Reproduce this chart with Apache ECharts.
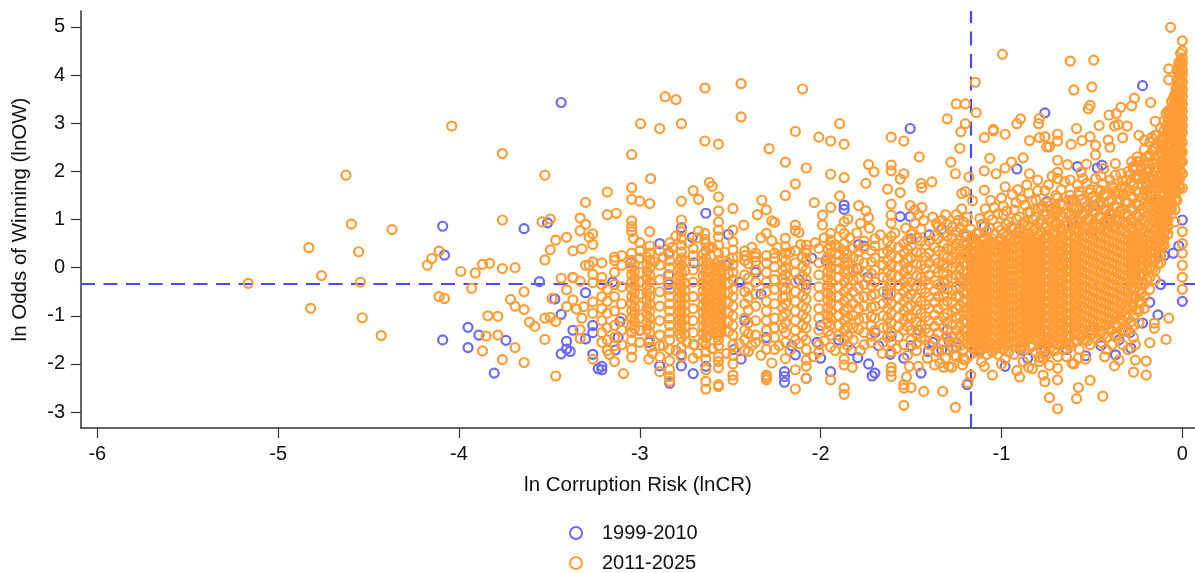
<!DOCTYPE html>
<html><head><meta charset="utf-8">
<style>html,body{margin:0;padding:0;background:#fff}#c{width:1195px;height:573px}</style>
<script src="https://cdn.jsdelivr.net/npm/echarts@6/dist/echarts.min.js"></script>
</head><body><div id="c"></div>
<script>
const xTicks=[-6,-5,-4,-3,-2,-1,0];
const yTicks=[-3,-2,-1,0,1,2,3,4,5];
const refX=-1.17, refY=-0.33;
const blueSparse=[[-4.09,.86],[-4.08,.26],[-3.64,.81],[-3.51,.93],[-3.435,3.43],[-3.555,-.29],[-3.3,-.52],[-3.47,-.65],[-4.09,-1.5],[-3.95,-1.24],[-3.89,-1.4],[-3.95,-1.66],[-3.805,-2.19],[-3.74,-1.51],[-3.435,-.97],[-3.37,-1.3],[-3.405,-1.53],[-3.405,-1.69],[-3.385,-1.74],[-3.435,-1.79],[-3.3,-1.48],[-3.26,-1.2],[-3.26,-1.35],[-3.26,-1.8],[-3.23,-2.1],
[-1.505,2.89],[-.76,3.215],[-.22,3.78],[-.47,2.07],[-.445,2.13],[-.58,2.1],[-.915,2.05],[-.155,2],[-.145,1.76],[-.115,2.54],[-.605,1.4],[-.49,1.29],[-.75,1.37],[-.17,1.49],[-1.56,1.06],[-1.505,1.06],[-1.095,.85],[0,.99],[-1.87,1.3],[-1.87,1.21],[-2.71,.63],[-2.77,.83],[-2.89,.5],[-2.51,.69],[-1.79,.48],[-.61,.93],[-2.635,1.13],
[-1.19,-2.43],[-1.445,-2.19],[-1.715,-2.25],[-1.7,-2.19],[-1.735,-2],[-1.795,-1.87],[-1.945,-2.16],[-2.08,-2.3],[-2.14,-1.81],[-2.2,-2.16],[-2.2,-2.26],[-2.2,-2.38],[-2.44,-1.9],[-2.635,-2.05],[-2.635,-1.45],[-2.705,-2.2],[-2.77,-1.81],[-2.77,-2.04],[-2.89,-2.04],[-2.835,-2.4],[-3.21,-2.05],[-3.21,-2.12],[-3.11,-1.12],[-3.135,-1.71],[0,-.7],[-.135,-.98],[-.98,-2.05],[-.855,-1.88],[-.76,-1.74],[-.285,-1.67],[-.37,-1.81],[-.535,-1.83],[-.895,-1.71],[-1.61,-1.42],[-1.54,-1.88],[-1.615,-1.8],[-2,-1.88],[-1.03,-1.67],[-1.33,-1.71],[-1.29,-1.53],[-1.405,-1.74],[-1.46,-1.3],
[-3.15,-.3],[-3.05,.1],[-2.84,.3],[-2.84,-.35],[-2.84,-.15],[-2.7,.1],[-2.52,.05],[-2.45,-.3],[-2.36,-.1],[-2.33,-.55],[-2.12,-.25],[-2.05,.2],[-2.08,-.35],[-1.97,.15],[-1.8,-.02],[-1.76,.45],[-1.74,-.2],[-1.63,-.55],[-1.5,.6],[-1.4,.68],[-1.33,.8],[-1.2,.65],[-1.18,.2],[-1.1,.6],[-1,.45],[-.9,.8],[-.84,.55],[-.7,.2],[-.5,.75],[-.4,1],[-.25,.55],[-.1,.25],[-.12,-.35],[-.02,.45],[-.05,.3],[-1.16,-.6],[-1.22,-.3],[-1.33,-.4],[-1.09,-1.2],[-.86,-.4],[-.5,-1.3],[-.35,-1.5],[-2,-1.2],[-1.9,-1.5],[-1.7,-1.35],[-1.3,-1.3],[-2.42,-1.1],[-2.3,-1.45],[-3,-1.3],[-2.95,-1.55],[-3.12,-1.45],[-2.7,-1.6],[-2.48,-1.7],
[-1.25,-1.65],[-1.12,-1.72],[-.93,-1.55],[-.64,-1.7],[-.45,-1.62],[-.29,-1.35],[-.22,-1.15],[-.18,-.72],[-2.16,-1.62],[-2.02,-1.55],[-1.83,-1.72],[-1.68,-1.62],[-1.5,-1.62],[-1.38,-1.55]];
const orangeSparse=[[-5.165,-.325],[-4.83,.415],[-4.76,-.165],[-4.625,1.92],[-4.595,.905],[-4.555,.33],[-4.545,-.3],[-4.37,.79],[-4.175,.05],[-4.15,.19],[-4.11,.345],[-3.99,-.08],[-3.91,-.11],[-3.87,.07],[-3.83,.09],[-3.76,-.02],[-3.69,0],[-4.04,2.94],[-3.76,2.37],[-3.525,1.92],[-3.76,.99],[-3.54,.95],[-3.495,1.01],[-3.93,-.43],[-4.11,-.6],[-4.08,-.64],[-4.82,-.845],[-4.535,-1.04],[-4.43,-1.41],[-3.64,-.5],[-3.715,-.66],[-3.69,-.8],[-3.64,-.87],[-3.84,-1],[-3.785,-1.01],[-3.61,-1.13],[-3.58,-1.22],[-3.525,-1.05],[-3.495,-1.03],[-3.465,-1.12],[-3.85,-1.42],[-3.785,-1.4],[-3.69,-1.66],[-3.87,-1.73],[-3.76,-1.91],[-3.64,-1.97],[-3.525,-1.49],[-3.465,-2.25],[-3.435,-.22],[-3.37,-.2],[-3.33,-.28],[-3.26,-.31],[-3.405,-.46],[-3.485,-.64],[-3.37,-.67],[-3.405,-.81],[-3.35,-.86],[-3.31,-.81],[-3.26,-.71],[-3.32,-1.05],[-3.26,-.95],[-3.33,-1.29],[-3.33,-1.47],[-3.26,-1.9],[-3.3,1.355],[-3.33,1.03],[-3.3,.9],[-3.33,.77],[-3.26,.7],[-3.28,.63],[-3.405,.63],[-3.465,.57],[-3.495,.37],[-3.525,.16],[-3.37,.35],[-3.32,.39],[-3.26,.48],[-3.3,.05],[-3.28,.05],[-3.26,.12],[-3.26,-.14],[-3.37,-.21],
[-2.86,3.55],[-2.8,3.49],[-2.64,3.73],[-2.44,3.82],[-2.1,3.71],[-2.996,2.99],[-2.89,2.89],[-2.77,2.99],[-2.44,3.13],[-2.64,2.63],[-2.565,2.565],[-3.045,2.35],[-2.94,1.85],[-3.045,1.66],[-3.045,1.42],[-3,1.38],[-2.945,1.33],[-3.18,1.57],[-3.18,1.1],[-3.13,1.13],[-2.615,1.77],[-2.6,1.69],[-2.705,1.6],[-2.675,1.42],[-2.565,1.47],[-2.77,1.38],[-2.565,1.18],[-2.485,1.23],[-2.565,.95],[-2.565,.78],[-2.77,.99],[-3.045,.97],[-3.045,.85],[-3.045,.75],[-3.035,.61],[-3,.52],[-2.945,.75],[-2.425,.885],[-2.485,.78],[-2.675,.76],[-2.64,.71],[-2.64,.59],[-2.77,.75],[-2.77,.61],[-2.77,.47],[-2.77,.33],[-2.8,.66],[-2.835,.52],[-2.705,.4],[-2.565,.64],[-2.565,.47],[-2.565,.3],[-2.485,.54],[-2.485,.37],
[-2.285,2.47],[-2.14,2.83],[-2.01,2.71],[-1.945,2.63],[-1.87,2.565],[-1.895,2.99],[-2.195,2.19],[-2.08,2.07],[-1.945,1.94],[-1.87,1.87],[-2.14,1.74],[-2.195,1.5],[-1.895,1.49],[-2.035,1.35],[-2.325,1.4],[-2.3,1.2],[-2.35,1.1],[-2.27,.97],[-2.255,.94],[-2.14,.885],[-2.14,.77],[-2.12,.73],[-2.3,.71],[-2.27,.56],[-2.195,.61],[-2.195,.435],[-2.08,.47],[-2.08,.37],[-1.99,1.09],[-1.99,.885],[-1.945,1.25],[-1.87,.95],[-1.85,1.01],[-1.79,1.29],[-1.75,1.18],[-1.735,1.04],[-1.78,.92],[-1.89,.8],[-1.945,.71],[-1.945,.57],[-1.87,.71],
[-1.61,2.71],[-1.54,2.63],[-1.455,2.3],[-1.735,2.14],[-1.705,1.99],[-1.61,2.13],[-1.61,2.01],[-1.54,1.95],[-1.56,1.84],[-1.75,1.75],[-1.63,1.63],[-1.56,1.56],[-1.61,1.32],[-1.61,1.09],[-1.61,.92],[-1.505,1.29],[-1.445,1.75],[-1.44,1.66],[-1.385,1.78],[-1.3,3.09],[-1.25,3.4],[-1.2,3.4],[-1.145,3.85],[-1.14,3.22],[-1.2,2.99],[-1.225,2.82],[-1.23,2.48],[-1.28,2.19],[-1.255,1.95],[-1.18,1.88],[-1.2,1.58],[-1.22,1.54],[-1.16,1.39],[-1.48,1.2],[-1.46,1.1],[-1.44,1.25],[-1.38,1.05],[-1.31,1.1],[-1.25,1.1],[-1.22,1.22],[-1.19,1.05],
[-.995,4.43],[-.62,4.29],[-.49,4.31],[-.6,3.69],[-.5,3.755],[-1.095,2.7],[-1.045,2.84],[-1.045,2.87],[-.98,2.77],[-.915,2.99],[-.895,3.09],[-.795,2.99],[-.79,3.1],[-.845,2.64],[-.79,2.7],[-.76,2.72],[-.735,2.51],[-.75,2.51],[-.69,2.77],[-.69,2.63],[-.615,2.56],[-.585,2.89],[-.555,2.64],[-.52,3.3],[-.51,3.37],[-.51,2.72],[-.46,2.95],[-.405,3.17],[-.365,3.2],[-.34,3.33],[-.28,3.36],[-.265,3.52],[-.175,3.43],[-.375,2.94],[-.355,2.97],[-.305,2.94],[-.15,3.04],[-.09,3.2],[-.075,4.13],[-.075,3.9],[-.065,4.99],[0,4.71],
[-1.065,2.27],[-1.095,2.01],[-1.03,1.95],[-.98,2.07],[-.945,2.19],[-.88,2.28],[-.845,1.95],[-.98,1.68],[-1.095,1.61],[-.69,2.23],[-.635,2.14],[-.53,2.15],[-.48,2.34],[-.48,2.54],[-.435,2.06],[-.37,2.16],[-.34,1.95],[-.28,2.2],[-.25,2.3],[-.25,2.2],[-.25,1.89],[-.2,1.75],[-.41,2.65],[-.33,2.7],[-.24,2.75],[-.21,2.65],[-.17,2.7],[-.14,2.75],[-.18,2.35],[-.15,2.25],[-.4,2.5],[-.56,1.98],[-.55,1.85],[-.53,1.75],[-.48,1.85],[-.44,1.75],[-.38,1.65],[-.33,1.7],[-.69,1.85],[-.69,1.98],[-.76,1.6],[-.8,1.6],[-.85,1.55],[-.92,1.35],[-1,1.45],[-1.06,1.4],[-.7,1.5],[-.62,1.5],[-.2,2.05],[-.22,1.95],[-.13,1.9],[-.1,2.1],[-.12,1.55],
[-1.54,-2.86],[-1.255,-2.9],[-.69,-2.93],[-.735,-2.7],[-.585,-2.72],[-.44,-2.67],[-.575,-2.49],[-.51,-2.34],[-1.43,-2.57],[-1.325,-2.57],[-1.5,-2.49],[-1.54,-2.43],[-1.54,-2.5],[-1.525,-2.27],[-1.87,-2.5],[-1.87,-2.63],[-2.14,-2.52],[-2.08,-2.3],[-1.945,-2.33],[-2.635,-2.36],[-2.635,-2.52],[-2.565,-2.43],[-2.565,-2.47],[-2.835,-2.26],[-2.835,-2.36],[-3.09,-2.2],[-2.89,-2.16],[-2.485,-2.23],[-2.485,-2.33],[-2.3,-2.23],[-2.3,-2.33],[-2.3,-2.28],
[-.2,-2.23],[-.2,-1.94],[-.27,-2.17],[-.26,-1.92],[-.375,-2.04],[-.35,-1.92],[-.09,-1.49],[-.18,-1.56],[-.075,-1.05],[-.155,-1.26],[-.155,-1.15],[-.26,-1.6],[-.9,-2.27],[-.85,-2.07],[-.915,-2.14],[-1.05,-2.23],[-1.095,-2.05],[-.77,-2.23],[-.76,-2.37],[-.69,-2.33],[-.69,-2.09],[-.735,-2.03],[-.535,-1.9],[-.61,-1.98],[-.575,-1.88],[-.79,-1.86],[-1.17,-2.23],[-1.185,-2.39],[-1.275,-2.07],[-1.34,-1.98],[-1.215,-2.02],[-1.46,-2.05],[-1.51,-2.05],[-1.61,-2.07],[-1.61,-2.26],[-1.61,-2.15],[-1.825,-2.07],[-1.87,-2.02],[-2.08,-1.92],[-2.08,-2.05],[-2.14,-2.12],[-2.27,-1.98],[-2.4,-1.74],[-2.195,-1.89],[-2.565,-1.85],[-2.565,-1.95],[-2.565,-2.08],[-2.705,-1.88],[-2.635,-2.12],[-2.835,-1.93],[-2.835,-2.12],[-2.95,-1.9],[-3.045,-1.86],[-3.14,-1.95],[-3.17,-1.8],[-1.37,-2.02],[-1.32,-2.07],[-1.29,-2.05],[-.64,-1.85],[-.6,-2],[-.79,-1.95],[-.77,-1.88],[-.98,-1.9],[-1,-2],[-.88,-1.95],[-.83,-2.1],[-.43,-1.85],[-.42,-1.7],[-.3,-1.7]];
const orangeColumnX=[-3.21,-3.18,-3.14,-3.1,-3.045,-3.0,-2.945,-2.89,-2.835,-2.77,-2.705,-2.635,-2.565,-2.485,-2.42,-2.36,-2.3,-2.255,-2.195,-2.14,-2.08,-2.01,-1.945,-1.87,-1.82,-1.76,-1.7,-1.655,-1.61,-1.54,-1.5,-1.445,-1.4,-1.35,-1.3,-1.25,-1.21,-1.17,-1.14,-1.11,-1.08,-1.05,-1.02,-.99,-.96,-.93,-.9,-.87,-.84,-.81,-.78,-.75,-.72,-.69,-.66,-.63,-.6,-.57,-.54,-.51,-.48,-.45,-.42,-.39,-.36,-.33,-.3,-.27,-.24,-.21,-.18,-.15,-.12,-.1,-.08,-.06,-.04,-.03,-.02,-.01,0];
const orangeColumnY=[
[-.35,-.6,-.85,-1.1,-1.35,-1.55,.1,-.2],[-.45,-.7,-.95,-1.25,-1.5,-1.72],[.15,.22,-.1,-.35,-.6,-.9,-1.2,-1.45,-1.62],[-.4,-.75,-1.05,-1.3,-1.6,.05,.25],
[.3,.15,0,-.15,-.3,-.45,-.6,-.75,-.9,-1.05,-1.2,-1.35,-1.5,-1.7],[.35,.2,-.1,-.3,-.55,-.8,-1.05,-1.3,-1.55],[.45,.3,.15,0,-.15,-.3,-.45,-.6,-.75,-.9,-1.05,-1.2,-1.35,-1.5,-1.65],[.35,.05,-.25,-.5,-.8,-1.1,-1.4,-1.62,-1.85],
[.3,.15,0,-.15,-.3,-.45,-.6,-.75,-.9,-1.05,-1.2,-1.35,-1.5,-1.7],[.2,.05,-.1,-.25,-.4,-.55,-.7,-.85,-1,-1.15,-1.3,-1.45,-1.65,-1.85],[.25,-.05,-.3,-.6,-.85,-1.1,-1.35,-1.6],[.5,.35,.2,.05,-.1,-.25,-.4,-.55,-.7,-.85,-1,-1.15,-1.3,-1.45,-1.6,-1.75,-1.9],
[.15,.02,-.1,-.2,-.3,-.4,-.5,-.6,-.7,-.8,-.9,-1,-1.1,-1.2,-1.3,-1.4,-1.5,-1.62],[.2,.05,-.1,-.25,-.45,-.6,-.8,-1,-1.2,-1.4,-1.6,-1.82,-2],[.35,.25,.15,-.15,-.5,-.75,-1.05,-1.3,-1.5,-1.72],[.3,.22,.12,-.05,-.3,-.55,-.8,-1.1,-1.4,-1.55],
[.25,.1,-.1,-.3,-.5,-.7,-.9,-1.1,-1.3,-1.5,-1.7],[.3,.2,.02,-.25,-.45,-.75,-1.05,-1.25,-1.45,-1.7],[.3,.15,0,-.15,-.3,-.45,-.6,-.75,-.95,-1.15,-1.35,-1.55],[.35,.1,-.1,-.3,-.5,-.7,-.9,-1.1,-1.3,-1.5],[.3,.15,-.05,-.25,-.45,-.65,-.85,-1.05,-1.25,-1.5,-1.7],[.4,.1,-.15,-.4,-.6,-.85,-1.05,-1.3,-1.6,-1.75],
[.45,.3,.15,0,-.15,-.3,-.45,-.6,-.75,-.9,-1.05,-1.2,-1.4,-1.65],[.5,.35,.2,.05,-.1,-.3,-.5,-.7,-.9,-1.1,-1.3,-1.5,-1.7,-1.9],[.4,.2,-.05,-.25,-.5,-.75,-1,-1.25,-1.5],[.55,.4,.1,-.1,-.35,-.6,-.8,-1.05,-1.35,-1.6],[.6,.45,.2,-.05,-.3,-.55,-.8,-1.05,-1.3],[.3,.05,-.2,-.5,-.75,-1,-1.25,-1.55],
[.65,.45,.25,.05,-.15,-.35,-.55,-.75,-.95,-1.15,-1.35,-1.55,-1.75],[.5,.3,.1,-.1,-.3,-.5,-.7,-.9,-1.1,-1.3,-1.6],[.7,.45,.2,-.05,-.3,-.55,-.8,-1.05,-1.3,-1.5],[.8,.55,.3,.05,-.2,-.45,-.7,-.95,-1.2,-1.45],[.55,.3,.1,-.15,-.35,-.6,-.85,-1.1,-1.35,-1.6],[.85,.6,.35,.1,-.1,-.35,-.6,-.85,-1.1,-1.35,-1.75],
[.9,.65,.4,.2,0,-.25,-.45,-.7,-.95,-1.15,-1.45,-1.7],[.75,.5,.3,.1,-.15,-.4,-.6,-.85,-1.05,-1.3,-1.55,-1.85],[.95,.7,.5,.3,.1,-.1,-.3,-.5,-.7,-.9,-1.1,-1.3,-1.5,-1.7,-1.9],[.8,.6,.45,.3,.15,0,-.15,-.3,-.45,-.6,-.75,-.9,-1.05,-1.2,-1.35,-1.5,-1.65,-1.8],
[.7,.5,.35,.2,.05,-.1,-.25,-.4,-.55,-.7,-.85,-1,-1.15,-1.3,-1.45,-1.6,-1.75],[.9,.55,.4,.25,.1,-.05,-.2,-.35,-.5,-.65,-.8,-.95,-1.1,-1.25,-1.4,-1.55,-1.7,-1.95],[.75,.45,.3,.15,0,-.15,-.3,-.45,-.6,-.75,-.9,-1.05,-1.2,-1.35,-1.5,-1.65,-1.8],[1,.6,.5,.35,.2,.05,-.1,-.25,-.4,-.55,-.7,-.85,-1,-1.15,-1.3,-1.45,-1.6,-1.75],
[.85,.55,.35,.2,.05,-.1,-.25,-.4,-.55,-.7,-.85,-1,-1.15,-1.3,-1.45,-1.6,-1.8],[1.1,.7,.45,.3,.15,0,-.15,-.3,-.45,-.6,-.75,-.9,-1.05,-1.2,-1.35,-1.5,-1.7],[.95,.6,.45,.3,.1,-.05,-.2,-.35,-.5,-.65,-.8,-.95,-1.1,-1.25,-1.4,-1.6,-1.75],[1.2,.8,.55,.4,.25,.1,-.05,-.2,-.35,-.5,-.65,-.8,-.95,-1.1,-1.25,-1.4,-1.55,-1.8],
[1.05,.75,.6,.45,.3,.15,0,-.15,-.3,-.45,-.6,-.75,-.9,-1.05,-1.2,-1.35,-1.5,-1.65],[1.3,.95,.7,.55,.4,.25,.1,-.05,-.2,-.35,-.5,-.65,-.8,-.95,-1.1,-1.25,-1.4,-1.55,-1.7],[1.15,.85,.65,.5,.35,.2,.05,-.1,-.25,-.4,-.55,-.7,-.85,-1,-1.15,-1.3,-1.45,-1.65],[1.4,1.05,.8,.6,.45,.3,.15,0,-.15,-.3,-.45,-.6,-.75,-.9,-1.05,-1.2,-1.35,-1.5,-1.75],
[1.25,1,.75,.55,.4,.25,.1,-.05,-.2,-.35,-.5,-.65,-.8,-.95,-1.1,-1.25,-1.4,-1.55,-1.7],[1.35,1.1,.85,.65,.5,.35,.2,.05,-.1,-.25,-.4,-.55,-.7,-.85,-1,-1.15,-1.3,-1.45,-1.6,-1.8],[1.2,.95,.7,.55,.4,.25,.1,-.05,-.2,-.35,-.5,-.65,-.8,-.95,-1.1,-1.25,-1.4,-1.55],[1.45,1.15,.9,.7,.5,.35,.2,.05,-.1,-.25,-.4,-.55,-.7,-.85,-1,-1.15,-1.3,-1.45,-1.6,-1.85],
[1.3,1.05,.8,.6,.45,.3,.15,0,-.15,-.3,-.45,-.6,-.75,-.9,-1.05,-1.2,-1.35,-1.5,-1.7],[1.4,1.15,.9,.7,.55,.4,.25,.1,-.05,-.2,-.35,-.5,-.65,-.8,-.95,-1.1,-1.25,-1.4,-1.6],[1.25,1,.8,.6,.45,.3,.15,0,-.15,-.3,-.45,-.6,-.75,-.9,-1.05,-1.2,-1.35,-1.55],[1.5,1.2,.95,.75,.55,.4,.25,.1,-.05,-.2,-.35,-.5,-.65,-.8,-.95,-1.1,-1.25,-1.4,-1.7],
[1.35,1.1,.85,.65,.5,.35,.2,.05,-.1,-.25,-.4,-.55,-.7,-.85,-1,-1.15,-1.3,-1.5],[1.55,1.25,1,.8,.6,.45,.3,.15,0,-.15,-.3,-.45,-.6,-.75,-.9,-1.05,-1.2,-1.4,-1.6],[1.4,1.15,.9,.7,.55,.4,.25,.1,-.05,-.2,-.35,-.5,-.65,-.8,-.95,-1.1,-1.25,-1.45],[1.6,1.3,1.05,.85,.65,.5,.35,.2,.05,-.1,-.25,-.4,-.55,-.7,-.85,-1,-1.15,-1.35,-1.55],
[1.5,1.2,.95,.75,.6,.45,.3,.15,0,-.15,-.3,-.45,-.6,-.75,-.9,-1.05,-1.2,-1.45],[1.7,1.4,1.1,.85,.7,.55,.4,.25,.1,-.05,-.2,-.35,-.5,-.65,-.8,-.95,-1.1,-1.3,-1.6],[1.55,1.25,1,.8,.65,.5,.35,.2,.05,-.1,-.25,-.4,-.55,-.7,-.85,-1,-1.2,-1.4],[1.8,1.5,1.2,.95,.8,.6,.45,.3,.15,0,-.15,-.3,-.45,-.6,-.75,-.9,-1.1,-1.3,-1.6],
[2,1.6,1.35,1.1,.9,.7,.55,.4,.25,.1,-.05,-.2,-.35,-.5,-.65,-.85,-1.05,-1.3],[2.1,1.7,1.45,1.2,.95,.75,.6,.45,.3,.15,0,-.15,-.3,-.45,-.6,-.8,-1,-1.2,-1.45],[2.2,1.85,1.55,1.3,1.05,.85,.65,.45,.3,.15,0,-.15,-.3,-.5,-.7,-.9,-1.15],[2.45,2.15,1.85,1.6,1.35,1.15,.95,.75,.55,.4,.2,.05,-.15,-.35,-.6,-.85],
[2.6,2.3,2.05,1.8,1.55,1.3,1.1,.9,.7,.55,.35,.2,0,-.2,-.45],[2.75,2.5,2.25,2,1.75,1.5,1.3,1.1,.95,.8,.6,.45,.3,.15,-.05,-.25],[2.9,2.65,2.4,2.2,1.95,1.75,1.55,1.35,1.2,1,.85,.7,.55,.4,.25,.1],[3.05,2.85,2.65,2.45,2.25,2.05,1.85,1.7,1.5,1.35,1.2,1.05,.9,.75,.6,.45],
[3.25,3.1,2.9,2.75,2.55,2.4,2.2,2.05,1.9,1.75,1.6,1.45,1.3,1.15,1,.85,.7],[3.45,3.3,3.15,3,2.85,2.7,2.55,2.4,2.25,2.1,1.95,1.8,1.65,1.5,1.35,1.2],[3.6,3.45,3.3,3.15,3,2.85,2.7,2.55,2.4,2.25,2.1,1.95,1.8,1.6,1.4,1.2,.95],[4.1,3.9,3.75,3.6,3.45,3.3,3.15,3,2.85,2.7,2.55,2.4,2.25,2.1,1.95,1.8,1.6,1.4],
[4.25,4.15,4,3.85,3.7,3.55,3.4,3.25,3.1,2.95,2.8,2.65,2.5,2.3,2.1,1.9,1.7],[4.45,4.3,4.2,4.05,3.9,3.75,3.6,3.45,3.3,3.15,3,2.85,2.7,2.55,2.4,2.2,2],[4.5,4.35,4.25,4.1,4,3.85,3.7,3.55,3.4,3.25,3.1,2.95,2.8,2.6,2.4,2.2,1.95,1.65,.75,.5,.3,.05,-.2,-.45]];
const orangeFillX=[-3.03,-2.96,-2.78,-2.75,-2.65,-2.62,-2.58,-2.55,-2.51,-2.4,-2.21,-2.1,-1.96,-1.9,-1.85,-1.79,-1.72,-1.63,-1.57,-1.52,-1.47,-1.42,-1.37,-1.32,-1.27,-1.23,-1.19,-1.155,-1.125,-1.095,-1.065,-1.035,-1.005,-.975,-.945,-.915,-.885,-.855,-.825,-.795,-.765,-.735,-.705,-.675,-.645,-.615,-.585,-.555,-.525,-.495,-.465,-.435,-.405,-.375,-.345,-.315,-.285,-.255,-.225,-.195,-.165,-.135,-.11,-.09,-.07,-.05,-.035,-.015];
const orangeFillY=[
[.07,-.08,-.22,-.37,-.52,-.67,-.82,-.97,-1.12,-1.27],[.22,.07,-.08,-.23,-.37,-.53,-.68,-.83,-.98,-1.13,-1.28],[.12,-.02,-.18,-.33,-.48,-.62,-.78,-.92,-1.08,-1.22,-1.38],[.13,-.07,-.32,-.47,-.62,-.77,-.92,-1.07,-1.23,-1.38],
[.28,.13,-.03,-.18,-.33,-.48,-.63,-.78,-.93,-1.08,-1.23,-1.38,-1.53],[.42,.1,-.04,-.2,-.35,-.48,-.64,-.79,-.92,-1.07,-1.24,-1.4],[.08,-.06,-.16,-.26,-.36,-.45,-.55,-.66,-.75,-.86,-.95,-1.06,-1.16,-1.26,-1.36],[.05,-.05,-.15,-.25,-.35,-.46,-.56,-.65,-.76,-.85,-.96,-1.05,-1.15,-1.25,-1.35],
[.1,-.13,-.33,-.52,-.72,-.93,-1.12,-1.33],[.08,-.22,-.42,-.62,-.88,-1.15,-1.37],[.2,-.06,-.23,-.41,-.62,-.83,-1.02,-1.25],[.22,.03,-.17,-.38,-.58,-.8,-.98,-1.2,-1.42],[.38,.22,.08,-.08,-.23,-.38,-.53,-.68,-.83,-.98,-1.13,-1.32],[.42,.27,.12,-.03,-.2,-.4,-.6,-.8,-1,-1.2,-1.4],[.28,.12,-.05,-.22,-.42,-.62,-.83,-1.03,-1.22,-1.42],[.33,.16,-.03,-.23,-.42,-.64,-.85,-1.07,-1.28],[.35,.12,-.12,-.37,-.58,-.82,-1.02,-1.2,-1.42],[.55,.35,.15,-.05,-.25,-.45,-.65,-.85,-1.05,-1.25,-1.45],[.42,.2,.02,-.18,-.38,-.62,-.83,-1.03,-1.22,-1.43],[.58,.38,.18,-.02,-.22,-.42,-.62,-.82,-1.02,-1.22],
[.62,.32,.08,-.17,-.38,-.63,-.88,-1.13,-1.38,-1.58],[.47,.22,-.02,-.27,-.52,-.77,-1.02,-1.27,-1.5],[.66,.42,.18,-.02,-.27,-.48,-.72,-.98,-1.22,-1.48],[.72,.5,.28,.08,-.12,-.32,-.58,-.78,-1.03,-1.25,-1.55],[.62,.4,.2,0,-.22,-.47,-.72,-.92,-1.18,-1.42,-1.66],[.83,.58,.38,.18,-.03,-.2,-.4,-.6,-.8,-1,-1.22,-1.42,-1.62],[.68,.52,.37,.22,.07,-.08,-.23,-.38,-.53,-.68,-.83,-.98,-1.13,-1.28,-1.43,-1.58],
[.62,.47,.28,.12,-.03,-.18,-.33,-.48,-.63,-.78,-.93,-1.08,-1.23,-1.38,-1.53,-1.68],[.72,.42,.28,.13,-.02,-.17,-.32,-.47,-.62,-.77,-.92,-1.07,-1.22,-1.37,-1.52,-1.68],[.63,.48,.32,.17,.02,-.13,-.28,-.43,-.58,-.73,-.88,-1.03,-1.18,-1.33,-1.48,-1.62],[.82,.52,.38,.23,.08,-.07,-.22,-.37,-.52,-.67,-.82,-.97,-1.12,-1.27,-1.42,-1.58],[.7,.5,.34,.19,.04,-.11,-.26,-.41,-.56,-.71,-.86,-1.01,-1.16,-1.31,-1.46,-1.66],
[.78,.58,.38,.23,.08,-.07,-.22,-.37,-.52,-.67,-.82,-.97,-1.12,-1.27,-1.42,-1.58],[.9,.65,.52,.37,.22,.07,-.08,-.23,-.38,-.53,-.68,-.83,-.98,-1.13,-1.28,-1.43,-1.62],[.85,.62,.42,.27,.12,-.03,-.18,-.33,-.48,-.63,-.78,-.93,-1.08,-1.23,-1.38,-1.55],[1,.72,.57,.42,.27,.12,-.03,-.18,-.33,-.48,-.63,-.78,-.93,-1.08,-1.23,-1.38,-1.58],[.92,.68,.48,.33,.18,.03,-.12,-.27,-.42,-.57,-.72,-.87,-1.02,-1.17,-1.32,-1.47,-1.65],
[1.15,.88,.62,.47,.32,.17,.02,-.13,-.28,-.43,-.58,-.73,-.88,-1.03,-1.18,-1.33,-1.48],[1,.78,.57,.42,.27,.12,-.03,-.18,-.33,-.48,-.63,-.78,-.93,-1.08,-1.23,-1.38,-1.62],[1.22,.92,.68,.52,.37,.22,.07,-.08,-.23,-.38,-.53,-.68,-.83,-.98,-1.13,-1.28,-1.48],[1.08,.83,.62,.47,.32,.17,.02,-.13,-.28,-.43,-.58,-.73,-.88,-1.03,-1.18,-1.33,-1.52,-1.66],[1.28,1.02,.78,.62,.47,.32,.17,.02,-.13,-.28,-.43,-.58,-.73,-.88,-1.03,-1.18,-1.33,-1.48,-1.68],[1.18,.92,.72,.57,.42,.27,.12,-.03,-.18,-.33,-.48,-.63,-.78,-.93,-1.08,-1.23,-1.38,-1.53,-1.72],
[1.32,1.08,.82,.63,.48,.33,.18,.03,-.12,-.27,-.42,-.57,-.72,-.87,-1.02,-1.17,-1.32,-1.47,-1.62],[1.12,.88,.68,.53,.38,.23,.08,-.07,-.22,-.37,-.52,-.67,-.82,-.97,-1.12,-1.27,-1.42,-1.58],[1.38,1.1,.85,.67,.52,.37,.22,.07,-.08,-.23,-.38,-.53,-.68,-.83,-.98,-1.13,-1.28,-1.43,-1.63],[1.22,.98,.77,.62,.47,.32,.17,.02,-.13,-.28,-.43,-.58,-.73,-.88,-1.03,-1.18,-1.33,-1.52],[1.42,1.12,.88,.68,.53,.38,.23,.08,-.07,-.22,-.37,-.52,-.67,-.82,-.97,-1.12,-1.27,-1.42],[1.28,1.02,.82,.62,.47,.32,.17,.02,-.13,-.28,-.43,-.58,-.73,-.88,-1.03,-1.18,-1.35,-1.52],
[1.48,1.18,.92,.72,.57,.42,.27,.12,-.03,-.18,-.33,-.48,-.63,-.78,-.93,-1.08,-1.23,-1.38],[1.32,1.05,.85,.66,.51,.36,.21,.06,-.09,-.24,-.39,-.54,-.69,-.84,-.99,-1.14,-1.32],[1.52,1.22,.95,.78,.62,.47,.32,.17,.02,-.13,-.28,-.43,-.58,-.73,-.88,-1.03,-1.18,-1.38],[1.38,1.12,.92,.72,.57,.42,.27,.12,-.03,-.18,-.33,-.48,-.63,-.78,-.93,-1.08,-1.25],[1.58,1.28,1.02,.82,.68,.53,.38,.23,.08,-.07,-.22,-.37,-.52,-.67,-.82,-.97,-1.17,-1.42],[1.42,1.18,.98,.77,.62,.47,.32,.17,.02,-.13,-.28,-.43,-.58,-.73,-.88,-1.08],
[1.68,1.38,1.12,.92,.72,.57,.42,.27,.12,-.03,-.18,-.33,-.48,-.63,-.82,-1.02,-1.32],[1.78,1.48,1.22,1,.8,.62,.47,.32,.17,.02,-.13,-.28,-.43,-.62,-.82,-1.12],[1.92,1.58,1.32,1.08,.88,.68,.52,.37,.22,.07,-.08,-.23,-.42,-.62,-.88],[2.08,1.72,1.45,1.22,1,.82,.62,.47,.32,.17,.02,-.13,-.32,-.52,-.72],[2.3,1.98,1.7,1.48,1.25,1.05,.85,.65,.47,.28,.12,-.05,-.25],[2.42,2.15,1.92,1.68,1.42,1.2,1,.82,.65,.48,.32,.15,-.02],
[2.55,2.3,2.08,1.88,1.65,1.42,1.22,1.02,.88,.7,.52,.38,.22,.08],[2.7,2.5,2.32,2.12,1.92,1.72,1.52,1.32,1.12,.98,.8,.62,.48],[2.95,2.78,2.6,2.42,2.22,2,1.82,1.62,1.42,1.27,1.08,.92,.78],[3.2,3.05,2.88,2.72,2.52,2.32,2.12,1.92,1.72,1.55,1.38,1.22],[3.52,3.38,3.22,3.07,2.92,2.77,2.62,2.47,2.32,2.17,2.02,1.88,1.72],[3.72,3.57,3.42,3.28,3.12,2.97,2.82,2.67,2.52,2.37,2.22,2.07,1.92,1.75,1.55],[4,3.82,3.67,3.52,3.38,3.22,3.07,2.92,2.77,2.62,2.47,2.32,2.17,2,1.85,1.65],[4.38,4.22,4.08,3.92,3.77,3.62,3.48,3.32,3.18,3.02,2.88,2.72,2.58,2.42,2.27,2.12,1.98]];
const orangeExtra=[[-1.12,1.02],[-1.09,1.22],[-1.07,1.08],[-1.04,1.25],[-1.02,1.12],[-.99,1.28],[-.97,1.18],[-.94,1.52],[-.91,1.62],[-.89,1.42],[-.86,1.72],[-.83,1.38],[-.8,1.82],[-.77,1.28],[-.74,1.72],[-.72,1.9],[-.7,1.25],[-.67,1.62],[-.65,1.78],[-.62,1.82],[-.6,1.42],[-.58,1.72],[-.57,1.58],[-.51,1.62],[-.47,1.62],[-.45,1.9],[-.42,1.52],[-.4,1.82],[-.37,1.92],[-.35,1.55],[-.31,1.82],[-.29,1.92],[-.27,2.05],[-.23,2.12],[-.19,2.18],[-.16,2.48],[-.13,2.32],[-.11,2.62],
[-2.92,.12],[-2.87,.22],[-2.82,.42],[-2.73,.52],[-2.68,.62],[-2.6,.42],[-2.53,.32],[-2.46,.22],[-2.38,.42],[-2.33,.62],[-2.24,.42],[-2.17,.32],[-2.11,.48],[-2.03,.52],[-1.98,.62],[-1.92,.48],[-1.84,.62],[-1.8,.72],[-1.73,.82],[-1.67,.68],[-1.59,.72],[-1.53,.82],[-1.48,.92],[-1.43,.98],[-1.36,.92],[-1.33,.98],[-1.27,.85],[-1.24,.98],
[-2.93,-1.78],[-2.87,-1.62],[-2.8,-1.72],[-2.74,-1.55],[-2.68,-1.78],[-2.6,-1.68],[-2.52,-1.78],[-2.45,-1.58],[-2.38,-1.62],[-2.33,-1.82],[-2.23,-1.62],[-2.17,-1.72],[-2.12,-1.58],[-2.04,-1.85],[-1.98,-1.52],[-1.92,-1.72],[-1.85,-1.62],[-1.78,-1.72],[-1.72,-1.55],[-1.66,-1.78],[-1.58,-1.68],[-1.52,-1.82],[-1.47,-1.72],[-1.41,-1.88],[-1.36,-1.72],[-1.31,-1.88],[-1.26,-1.82],[-1.2,-1.92]];
const orangeAll=orangeSparse.concat(orangeColumnX.flatMap((x,i)=>orangeColumnY[i].map(y=>[x,y])),orangeFillX.flatMap((x,i)=>orangeFillY[i].map(y=>[x,y])),orangeExtra);
const tickFont={fontFamily:'Arial, "Liberation Sans", sans-serif',fontSize:20,color:'#111'};
const mk=(name,data,c,z)=>({name,type:'scatter',data,symbol:'circle',symbolSize:9,z,
  itemStyle:{color:'transparent',borderColor:c,borderWidth:2.2,opacity:1},emphasis:{disabled:true},animation:false});
const chart=echarts.init(document.getElementById('c'),null,{renderer:'canvas'});
const blue=mk('1999-2010',blueSparse,'#6a6af8',3);
blue.markLine={silent:true,symbol:'none',z:1,label:{show:false},animation:false,
  lineStyle:{color:'#4a4af0',type:[14,8.5],width:2.2,opacity:1},
  data:[{xAxis:refX},{yAxis:refY}]};
const legendBox=(name,top)=>({orient:'vertical',left:564,top,itemWidth:42,itemHeight:12,
  textStyle:{...tickFont},data:[{name,icon:'circle'}],selectedMode:false});
chart.setOption({animation:false,backgroundColor:'#fff',
 grid:{left:81,right:0,top:11,height:417,containLabel:false},
 xAxis:{type:'value',min:-6.09,max:0.07,
  name:'ln Corruption Risk (lnCR)',nameLocation:'middle',nameGap:47,
  nameTextStyle:{...tickFont,fontSize:20.5},
  axisLine:{lineStyle:{color:'#333',width:1.5},onZero:false},axisTick:{length:10,lineStyle:{color:'#333',width:1.2},customValues:xTicks},
  axisLabel:{...tickFont,margin:16,customValues:xTicks,formatter:v=>String(v),showMinLabel:true,showMaxLabel:true},splitLine:{show:false}},
 yAxis:{type:'value',min:-3.33,max:5.33,
  name:'ln Odds of Winning (lnOW)',nameLocation:'middle',nameGap:50,nameTextStyle:{...tickFont,fontSize:20.5},
  axisLine:{lineStyle:{color:'#333',width:1.5},onZero:false},axisTick:{length:10,lineStyle:{color:'#333',width:1.2},customValues:yTicks},
  axisLabel:{...tickFont,margin:16,customValues:yTicks,formatter:v=>String(v)},splitLine:{show:false}},
 legend:[legendBox('1999-2010',518),legendBox('2011-2025',548)],
 series:[blue,mk('2011-2025',orangeAll,'#ff9c36',4)]});
</script></body></html>
